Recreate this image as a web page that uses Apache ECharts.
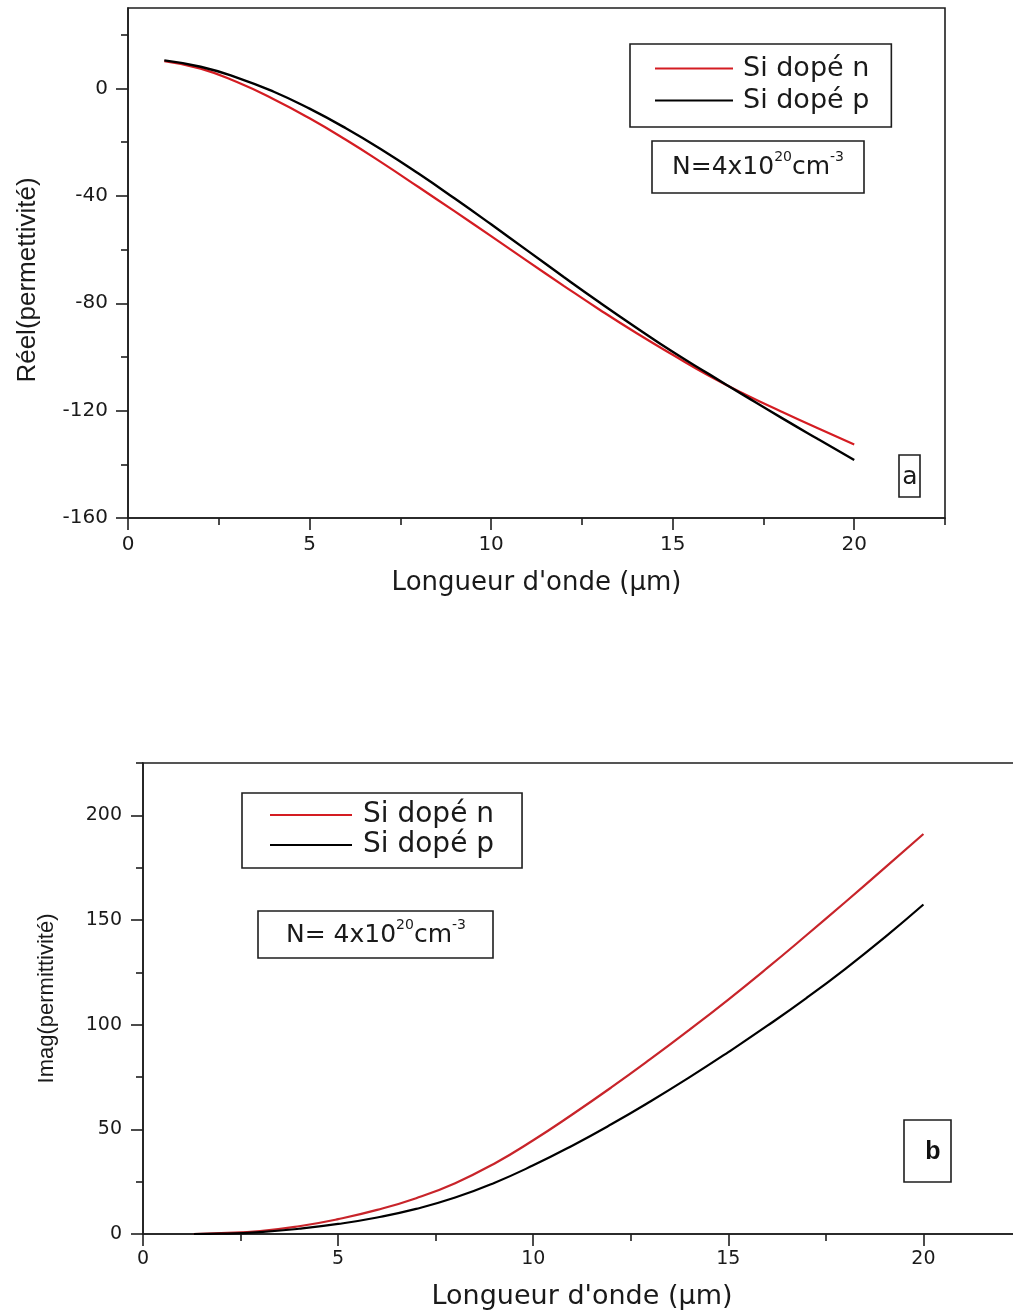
<!DOCTYPE html>
<html>
<head>
<meta charset="utf-8">
<script src="https://cdn.jsdelivr.net/npm/echarts@6/dist/echarts.min.js"></script>
<style>
html,body{margin:0;padding:0;background:#fff;}
#chart{width:1013px;height:1313px;}
</style>
</head>
<body>
<div id="chart"></div>
<script>
// ---- Data ----
const seriesNames = ['Si dopé n', 'Si dopé p'];

// Panel a : real part of permittivity
const wavelengthA = [1, 2, 3, 4, 5, 6, 7, 8, 9, 10, 11, 12, 13, 14, 15, 16, 17, 18, 19, 20];
const reelN = [10.2, 7.4, 2.4, -3.9, -11.1, -19.1, -27.7, -36.7, -45.8, -55.0, -64.3, -73.5, -82.5, -91.1, -99.2, -107.0, -114.0, -120.4, -126.6, -132.6];
const reelP = [10.5, 8.1, 4.1, -1.1, -7.5, -14.8, -22.9, -31.7, -41.0, -50.6, -60.4, -70.2, -79.8, -89.1, -98.1, -106.4, -114.6, -122.7, -130.6, -138.4];

// Panel b : imaginary part of permittivity
const wavelengthB = [1.3, 2, 3, 4, 5, 6, 7, 8, 9, 10, 11, 12, 13, 14, 15, 16, 17, 18, 19, 20];
const imagN = [0, 0.4, 1.4, 3.7, 7.1, 11.5, 17.1, 24.3, 33.6, 44.8, 57.1, 70.0, 83.5, 97.5, 112.0, 127.1, 142.7, 158.6, 174.8, 191.1];
const imagP = [0, 0.15, 0.9, 2.5, 4.8, 7.9, 12.0, 17.4, 24.4, 32.8, 42.2, 52.4, 63.3, 74.8, 86.9, 99.5, 112.7, 126.7, 141.6, 157.4];

// Tick values
const xMajorTicks = [0, 5, 10, 15, 20];
const xMinorTicks = [2.5, 7.5, 12.5, 17.5, 22.5];
const yMajorTicksA = [-160, -120, -80, -40, 0];
const yMinorTicksA = [-140, -100, -60, -20, 20];
const yMajorTicksB = [0, 50, 100, 150, 200];
const yMinorTicksB = [25, 75, 125, 175, 225];

// Text
const xTitle = "Longueur d'onde (µm)";
const yTitleA = 'Réel(permettivité)';
const yTitleB = 'Imag(permittivité)';

// ---- Build chart ----
const zip = (xs, ys) => xs.map((x, i) => [x, ys[i]]);
const INK = '#1e1e1e';
const RED = '#d41c22';
const LABEL_FONT = 'DejaVu Sans';

function mainAxis(gridIndex, min, max, ticks, extra) {
  return Object.assign({
    type: 'value', gridIndex, min, max,
    axisLine: { show: true, onZero: false, lineStyle: { color: INK, width: 1.6 } },
    axisTick: { show: true, inside: false, length: 12, customValues: ticks, lineStyle: { color: INK, width: 1.6 } },
    splitLine: { show: false }
  }, extra);
}
function minorAxis(gridIndex, min, max, ticks, pos) {
  return {
    type: 'value', gridIndex, min, max, position: pos,
    axisLine: { show: false, onZero: false },
    axisTick: { show: true, inside: false, length: 7, customValues: ticks, lineStyle: { color: INK, width: 1.6 } },
    axisLabel: { show: false },
    splitLine: { show: false }
  };
}
const supRich = (size) => ({
  m: { fontSize: size, fontFamily: LABEL_FONT, lineHeight: 34, fill: '#1a1a1a' },
  s: { fontSize: 14, fontFamily: LABEL_FONT, lineHeight: 16, verticalAlign: 'top', fill: '#1a1a1a' }
});

const option = {
  animation: false,
  backgroundColor: '#fff',
  grid: [
    { left: 128, top: 8, width: 817, height: 510, show: true, borderColor: INK, borderWidth: 1.6, outerBoundsMode: 'none' },
    { left: 143, top: 763, width: 878, height: 471, show: true, borderColor: INK, borderWidth: 1.6, outerBoundsMode: 'none' }
  ],
  xAxis: [
    mainAxis(0, 0, 22.5, xMajorTicks, {
      position: 'bottom', name: xTitle, nameLocation: 'middle', nameGap: 52,
      nameTextStyle: { fontFamily: LABEL_FONT, fontSize: 26, color: '#1a1a1a' },
      axisLabel: { show: true, customValues: xMajorTicks, margin: 17, color: '#1a1a1a', fontFamily: LABEL_FONT, fontSize: 20 }
    }),
    minorAxis(0, 0, 22.5, xMinorTicks, 'bottom'),
    mainAxis(1, 0, 22.5, xMajorTicks, {
      position: 'bottom', name: xTitle, nameLocation: 'middle', nameGap: 49,
      nameTextStyle: { fontFamily: LABEL_FONT, fontSize: 27, color: '#1a1a1a' },
      axisLabel: { show: true, customValues: xMajorTicks, margin: 16, color: '#1a1a1a', fontFamily: LABEL_FONT, fontSize: 19 }
    }),
    minorAxis(1, 0, 22.5, xMinorTicks, 'bottom')
  ],
  yAxis: [
    mainAxis(0, -160, 30, yMajorTicksA, {
      position: 'left', name: yTitleA, nameLocation: 'middle', nameGap: 87, nameRotate: 90,
      nameTextStyle: { fontFamily: 'Liberation Sans', fontSize: 26, color: '#1a1a1a', padding: [0, 34, 0, 0] },
      axisLabel: { show: true, customValues: yMajorTicksA, margin: 20, color: '#1a1a1a', fontFamily: LABEL_FONT, fontSize: 20 }
    }),
    minorAxis(0, -160, 30, yMinorTicksA, 'left'),
    mainAxis(1, 0, 225, yMajorTicksB, {
      position: 'left', name: yTitleB, nameLocation: 'middle', nameGap: 85, nameRotate: 90,
      nameTextStyle: { fontFamily: 'Liberation Sans', fontSize: 22, color: '#1a1a1a' },
      axisLabel: { show: true, customValues: yMajorTicksB, margin: 21, color: '#1a1a1a', fontFamily: LABEL_FONT, fontSize: 19 }
    }),
    minorAxis(1, 0, 225, yMinorTicksB, 'left')
  ],
  legend: [
    {
      left: 630, top: 44, orient: 'vertical', data: seriesNames, icon: 'rect',
      itemWidth: 78, itemHeight: 2, itemGap: 5, padding: [11, 22, 13, 25],
      borderColor: INK, borderWidth: 1.6, backgroundColor: '#fff',
      textStyle: { fontFamily: LABEL_FONT, fontSize: 27, color: '#1a1a1a', padding: [0, 0, 0, 5] },
      selectedMode: false
    },
    {
      left: 242, top: 793, orient: 'vertical', data: seriesNames, icon: 'rect',
      itemWidth: 82, itemHeight: 2, itemGap: 2, padding: [8, 28, 9, 28],
      borderColor: INK, borderWidth: 1.6, backgroundColor: '#fff',
      textStyle: { fontFamily: LABEL_FONT, fontSize: 28, color: '#1a1a1a', padding: [0, 0, 0, 6] },
      selectedMode: false
    }
  ],
  series: [
    { name: seriesNames[0], type: 'line', xAxisIndex: 0, yAxisIndex: 0, data: zip(wavelengthA, reelN),
      symbol: 'none', smooth: true, lineStyle: { color: RED, width: 2.2 }, itemStyle: { color: RED }, z: 3 },
    { name: seriesNames[1], type: 'line', xAxisIndex: 0, yAxisIndex: 0, data: zip(wavelengthA, reelP),
      symbol: 'none', smooth: true, lineStyle: { color: '#000', width: 2.4 }, itemStyle: { color: '#000' }, z: 4 },
    { name: seriesNames[0], type: 'line', xAxisIndex: 2, yAxisIndex: 2, data: zip(wavelengthB, imagN),
      symbol: 'none', smooth: true, lineStyle: { color: '#c8242a', width: 2.2 }, itemStyle: { color: '#c8242a' }, z: 3 },
    { name: seriesNames[1], type: 'line', xAxisIndex: 2, yAxisIndex: 2, data: zip(wavelengthB, imagP),
      symbol: 'none', smooth: true, lineStyle: { color: '#000', width: 2.2 }, itemStyle: { color: '#000' }, z: 4 }
  ],
  graphic: [
    { type: 'rect', x: 652, y: 141, shape: { width: 212, height: 52 }, style: { fill: '#fff', stroke: INK, lineWidth: 1.6 }, z: 10 },
    { type: 'text', x: 758, y: 167, z: 11, style: {
        text: '{m|N=4x10}{s|20}{m|cm}{s|-3}', align: 'center', verticalAlign: 'middle',
        font: '25px "DejaVu Sans"', fill: '#1a1a1a', rich: supRich(25)
    } },
    { type: 'rect', x: 899, y: 455, shape: { width: 21, height: 42 }, style: { fill: '#fff', stroke: INK, lineWidth: 1.6 }, z: 10 },
    { type: 'text', x: 910, y: 477, z: 11, style: { text: 'a', align: 'center', verticalAlign: 'middle', font: '25px "DejaVu Sans"', fill: '#1a1a1a' } },

    { type: 'rect', x: 258, y: 911, shape: { width: 235, height: 47 }, style: { fill: '#fff', stroke: INK, lineWidth: 1.6 }, z: 10 },
    { type: 'text', x: 376, y: 935, z: 11, style: {
        text: '{m|N= 4x10}{s|20}{m|cm}{s|-3}', align: 'center', verticalAlign: 'middle',
        font: '25px "DejaVu Sans"', fill: '#1a1a1a', rich: supRich(25)
    } },
    { type: 'rect', x: 904, y: 1120, shape: { width: 47, height: 62 }, style: { fill: '#fff', stroke: INK, lineWidth: 1.6 }, z: 10 },
    { type: 'text', x: 933, y: 1152, z: 11, style: { text: 'b', align: 'center', verticalAlign: 'middle', font: 'bold 25px "Liberation Sans"', fill: '#111' } }
  ]
};

const chart = echarts.init(document.getElementById('chart'), null, { renderer: 'canvas' });
chart.setOption(option);
</script>
</body>
</html>
